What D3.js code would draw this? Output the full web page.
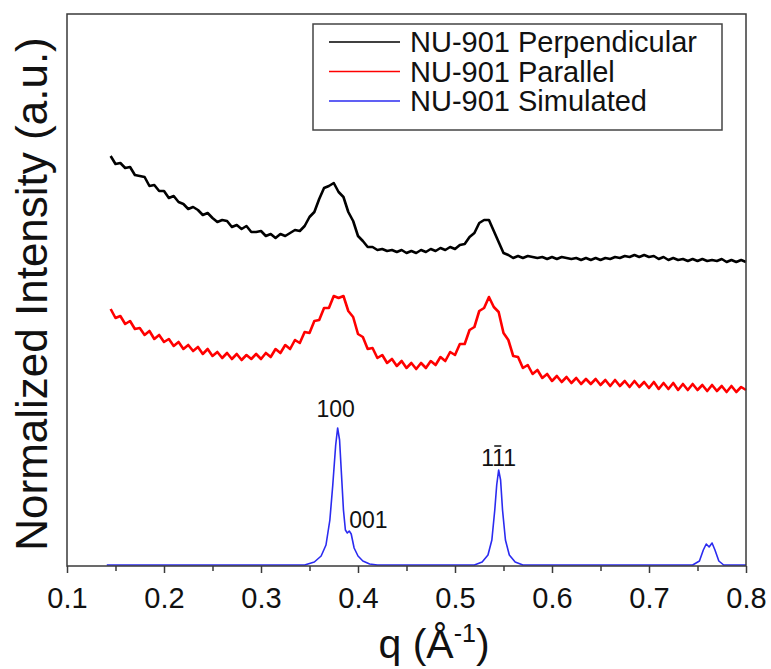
<!DOCTYPE html>
<html>
<head>
<meta charset="utf-8">
<script src="https://cdn.jsdelivr.net/npm/d3@7"></script>
<style>
  body { margin: 0; background: #fff; }
  svg { font-family: "Liberation Sans", Arial, sans-serif; }
</style>
</head>
<body>
<svg id="chart"></svg>
<script>
// q grid for the two measured patterns (step 0.005, 0.145 .. 0.800)
var qStart = 0.145, qStep = 0.005;

var perpValues = [
  4.10, 4.02, 4.03, 3.98, 3.99, 3.91, 3.90, 3.89, 3.80, 3.81,
  3.75, 3.75, 3.68, 3.70, 3.64, 3.62, 3.57, 3.59, 3.56, 3.51,
  3.53, 3.48, 3.44, 3.46, 3.45, 3.39, 3.41, 3.37, 3.40, 3.34,
  3.34, 3.35, 3.30, 3.32, 3.28, 3.32, 3.30, 3.33, 3.36, 3.35,
  3.40, 3.49, 3.54, 3.67, 3.78, 3.80, 3.83, 3.74, 3.69, 3.54,
  3.45, 3.30, 3.25, 3.19, 3.19, 3.16, 3.17, 3.15, 3.16, 3.14,
  3.16, 3.13, 3.15, 3.13, 3.16, 3.14, 3.17, 3.15, 3.18, 3.16,
  3.19, 3.17, 3.21, 3.22, 3.29, 3.33, 3.43, 3.46, 3.46, 3.35,
  3.24, 3.13, 3.11, 3.08, 3.10, 3.08, 3.10, 3.09, 3.08, 3.09,
  3.07, 3.09, 3.07, 3.09, 3.08, 3.07, 3.08, 3.06, 3.08, 3.06,
  3.08, 3.06, 3.08, 3.07, 3.09, 3.08, 3.10, 3.09, 3.11, 3.09,
  3.11, 3.09, 3.10, 3.07, 3.09, 3.06, 3.08, 3.06, 3.07, 3.05,
  3.07, 3.05, 3.07, 3.05, 3.06, 3.05, 3.07, 3.04, 3.06, 3.04,
  3.06, 3.04
];

var paraValues = [
  2.57, 2.48, 2.50, 2.42, 2.45, 2.37, 2.38, 2.31, 2.35, 2.27,
  2.31, 2.24, 2.27, 2.20, 2.24, 2.17, 2.21, 2.15, 2.19, 2.12,
  2.17, 2.10, 2.14, 2.08, 2.13, 2.07, 2.12, 2.06, 2.11, 2.07,
  2.12, 2.07, 2.13, 2.09, 2.17, 2.13, 2.21, 2.17, 2.26, 2.23,
  2.34, 2.33, 2.45, 2.46, 2.58, 2.58, 2.70, 2.68, 2.70, 2.55,
  2.49, 2.32, 2.29, 2.17, 2.18, 2.08, 2.11, 2.03, 2.07, 2.00,
  2.05, 1.98, 2.03, 1.97, 2.03, 1.98, 2.05, 2.01, 2.09, 2.05,
  2.14, 2.11, 2.22, 2.22, 2.36, 2.39, 2.55, 2.58, 2.69, 2.59,
  2.54, 2.33, 2.26, 2.10, 2.09, 1.98, 2.01, 1.92, 1.96, 1.88,
  1.92, 1.85, 1.90, 1.84, 1.89, 1.83, 1.88, 1.82, 1.87, 1.82,
  1.87, 1.81, 1.86, 1.80, 1.86, 1.80, 1.85, 1.79, 1.85, 1.79,
  1.84, 1.78, 1.84, 1.77, 1.83, 1.77, 1.83, 1.76, 1.82, 1.76,
  1.82, 1.76, 1.81, 1.75, 1.81, 1.75, 1.80, 1.74, 1.80, 1.74,
  1.79, 1.76
];

// simulated pattern, read at uneven q
var simQ = [
  0.141, 0.300, 0.345, 0.355, 0.362, 0.367, 0.371, 0.374, 0.377, 0.379,
  0.381, 0.383, 0.385, 0.387, 0.389, 0.391, 0.393, 0.396, 0.400, 0.405,
  0.412, 0.420, 0.520, 0.528, 0.534, 0.538, 0.541, 0.543, 0.545, 0.547,
  0.549, 0.552, 0.556, 0.562, 0.570, 0.745, 0.752, 0.756, 0.759, 0.762,
  0.765, 0.768, 0.772, 0.777, 0.800
];
var simValues = [
  0.01, 0.01, 0.01, 0.04, 0.10, 0.21, 0.46, 0.81, 1.21, 1.38,
  1.26, 0.91, 0.56, 0.36, 0.33, 0.35, 0.32, 0.18, 0.10, 0.05,
  0.02, 0.01, 0.01, 0.04, 0.11, 0.26, 0.56, 0.81, 0.96, 0.86,
  0.56, 0.26, 0.11, 0.04, 0.01, 0.01, 0.05, 0.16, 0.22, 0.19,
  0.23, 0.16, 0.05, 0.01, 0.01
];

var seriesNames = ["NU-901 Perpendicular", "NU-901 Parallel", "NU-901 Simulated"];
var seriesColors = ["#000000", "#ff0000", "#2b2bf0"];
var xTicks = [0.1, 0.2, 0.3, 0.4, 0.5, 0.6, 0.7, 0.8];
var xMinorTicks = [0.15, 0.25, 0.35, 0.45, 0.55, 0.65, 0.75];
var peakLabels = [
  { parts: ["100"], q: 0.379, v: 1.38 },
  { parts: ["001"], q: 0.392, v: 0.33 },
  { parts: ["1", "1", "1"], q: 0.545, v: 0.96 }
];

var screen = { width: 771, height: 669 };
var margins = { top: 14, left: 67, right: 25, bottom: 103 };
var graph = {
  width: screen.width - margins.left - margins.right,
  height: screen.height - margins.top - margins.bottom
};

var svg = d3.select("#chart").attr("width", screen.width).attr("height", screen.height);

var xScale = d3.scaleLinear().domain([0.1, 0.8]).range([0, graph.width]);
var yScale = d3.scaleLinear().domain([0, 5.52]).range([graph.height, 0]);

var toPoints = function (vals) {
  return vals.map(function (v, i) { return [qStart + i * qStep, v]; });
};
var simPoints = simQ.map(function (q, i) { return [q, simValues[i]]; });
var allSeries = [toPoints(perpValues), toPoints(paraValues), simPoints];

var g = svg.append("g")
  .classed("graph", true)
  .attr("transform", "translate(" + margins.left + "," + margins.top + ")");

var line = d3.line()
  .x(function (d) { return xScale(d[0]); })
  .y(function (d) { return yScale(d[1]); });

g.selectAll("path.series")
  .data(allSeries)
  .enter()
  .append("path")
  .attr("class", "series")
  .attr("d", line)
  .attr("fill", "none")
  .attr("stroke", function (d, i) { return seriesColors[i]; })
  .attr("stroke-width", function (d, i) { return i < 2 ? 2.6 : 1.6; })
  .attr("stroke-linejoin", "round");

// frame
g.append("rect")
  .attr("width", graph.width)
  .attr("height", graph.height)
  .attr("fill", "none")
  .attr("stroke", "#3a3a3a")
  .attr("stroke-width", 1.5);

// axes
var xAxis = d3.axisBottom(xScale)
  .tickValues(xTicks)
  .tickSize(7)
  .tickPadding(14)
  .tickFormat(d3.format(".1f"));
var xMinor = d3.axisBottom(xScale).tickValues(xMinorTicks).tickSize(5).tickFormat("");

var xg = g.append("g").attr("transform", "translate(0," + graph.height + ")").call(xAxis);
g.append("g").attr("transform", "translate(0," + graph.height + ")").call(xMinor)
  .select(".domain").remove();
xg.select(".domain").remove();
svg.selectAll(".tick line").attr("stroke", "#3a3a3a").attr("stroke-width", 1.5);
xg.selectAll(".tick text").attr("font-size", 29).attr("fill", "#111")
  .attr("font-family", "'Liberation Sans', Arial, sans-serif");

// peak labels
var offsets = [[-2, -11], [-1, -5], [0, -4]];
var anchors = ["middle", "start", "middle"];
var lbl = g.selectAll("text.peak")
  .data(peakLabels)
  .enter()
  .append("text")
  .attr("class", "peak")
  .attr("font-size", 23)
  .attr("fill", "#111")
  .attr("text-anchor", function (d, i) { return anchors[i]; })
  .attr("x", function (d, i) { return xScale(d.q) + offsets[i][0]; })
  .attr("y", function (d, i) { return yScale(d.v) + offsets[i][1]; });
lbl.selectAll("tspan")
  .data(function (d) { return d.parts; })
  .enter()
  .append("tspan")
  .text(function (d) { return d; });

// bar over the middle index of (1 -1 1)
lbl.each(function (d) {
  if (d.parts.length === 3) {
    var node = this;
    var s = node.getStartPositionOfChar(1);
    var e = node.getEndPositionOfChar(1);
    g.append("line")
      .attr("x1", s.x + 2).attr("x2", e.x - 2)
      .attr("y1", s.y - 20).attr("y2", s.y - 20)
      .attr("stroke", "#111").attr("stroke-width", 1.5);
  }
});

// legend
var legend = svg.append("g").attr("transform", "translate(313,24)");
legend.append("rect")
  .attr("width", 409).attr("height", 106)
  .attr("fill", "#fff").attr("stroke", "#444").attr("stroke-width", 1.5);
var rows = legend.selectAll("g.row")
  .data(seriesNames)
  .enter()
  .append("g")
  .attr("class", "row")
  .attr("transform", function (d, i) { return "translate(0," + (18 + i * 29.5) + ")"; });
rows.append("line")
  .attr("x1", 16).attr("x2", 87)
  .attr("stroke", function (d, i) { return seriesColors[i]; })
  .attr("stroke-width", 1.5);
rows.append("text")
  .attr("x", 97)
  .attr("dy", "0.36em")
  .attr("font-size", 29)
  .attr("fill", "#111")
  .text(function (d) { return d; });

// axis titles
svg.append("text")
  .attr("transform", "translate(47," + (margins.top + graph.height / 2 + 4) + ") rotate(-90)")
  .attr("text-anchor", "middle")
  .attr("font-size", 44)
  .attr("fill", "#111")
  .text("Normalized Intensity (a.u.)");

var xt = svg.append("text")
  .attr("x", 434)
  .attr("y", 658)
  .attr("text-anchor", "middle")
  .attr("font-size", 41)
  .attr("fill", "#111");
xt.append("tspan").text("q (\u00c5");
xt.append("tspan").attr("font-size", 25).attr("dy", -16).text("-1");
xt.append("tspan").attr("dy", 16).text(")");
</script>
</body>
</html>
